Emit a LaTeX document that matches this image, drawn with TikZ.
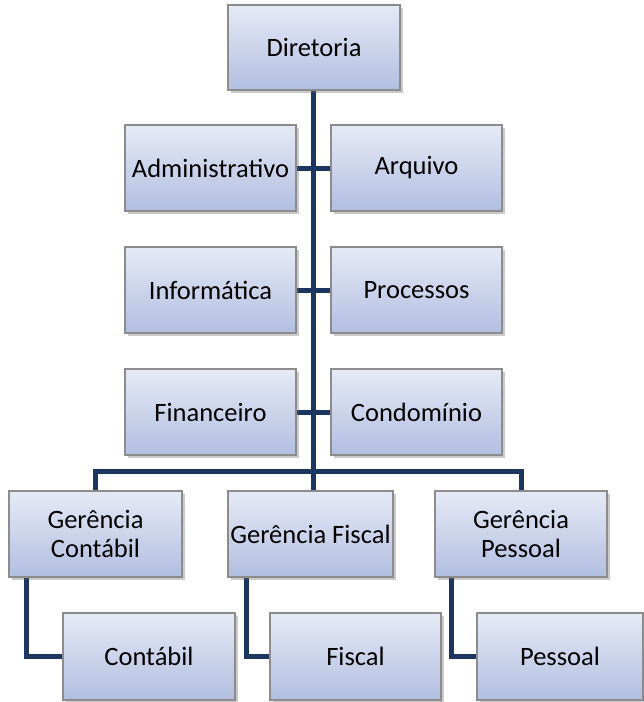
\documentclass[tikz,border=0pt]{standalone}
\usepackage{fontspec}
\setmainfont{Carlito}
\usetikzlibrary{shadows,backgrounds,calc}
\definecolor{linkblue}{RGB}{28,54,98}
\definecolor{boxtop}{RGB}{230,234,246}
\definecolor{boxbot}{RGB}{178,190,224}
\definecolor{boxedge}{RGB}{140,140,140}
\tikzset{
  orgbox/.style={rectangle, draw=boxedge, line width=1.2pt, top color=boxtop, bottom color=boxbot,
    inner sep=0pt, align=center, font=\fontsize{26.5}{29}\selectfont,
    drop shadow={shadow xshift=2.5pt, shadow yshift=-3pt, opacity=0.35, fill=black!60}},
  link/.style={draw=linkblue, line width=5pt}
}
\newcommand{\obox}[7]{\node[orgbox, minimum width={#4-#2}, minimum height={#5-#3}] (#1) at ({(#2+#4)/2},{(#3+#5)/2}) {#6};}
\begin{document}
\begin{tikzpicture}[x=1pt,y=-1pt]
\useasboundingbox (0,0) rectangle (644,702);
\obox{dir}{228}{5}{400}{90}{Diretoria}{}
\obox{adm}{125}{125}{296}{211}{Administrativo}{}
\obox{arq}{331}{125}{502}{211}{Arquivo}{}
\obox{inf}{125}{247}{296}{333}{Informática}{}
\obox{pro}{331}{247}{502}{333}{Processos}{}
\obox{fin}{125}{369}{296}{455}{Financeiro}{}
\obox{con}{331}{369}{502}{455}{Condomínio}{}
\obox{gc}{9}{491}{182}{577}{Gerência\\Contábil}{}
\obox{gf}{228}{491}{393}{577}{Gerência Fiscal}{}
\obox{gp}{435}{491}{607}{577}{Gerência\\Pessoal}{}
\obox{ct}{63}{613}{235}{700}{Contábil}{}
\obox{fs}{270}{613}{441}{700}{Fiscal}{}
\obox{ps}{477}{613}{643}{700}{Pessoal}{}
\coordinate (j) at (313,471);
\begin{scope}[on background layer]
\draw[link] (j|-dir.south) -- (j);
\draw[link] (adm.east) -- (arq.west);
\draw[link] (inf.east) -- (pro.west);
\draw[link] (fin.east) -- (con.west);
\draw[link] (gc.north) |- (j) -| (gp.north);
\draw[link] (j) -- (j|-gf.north);
\draw[link] ($(gc.south west)+(18,0)$) |- (ct.west);
\draw[link] ($(gf.south west)+(19,0)$) |- (fs.west);
\draw[link] ($(gp.south west)+(17,0)$) |- (ps.west);
\end{scope}
\end{tikzpicture}
\end{document}
